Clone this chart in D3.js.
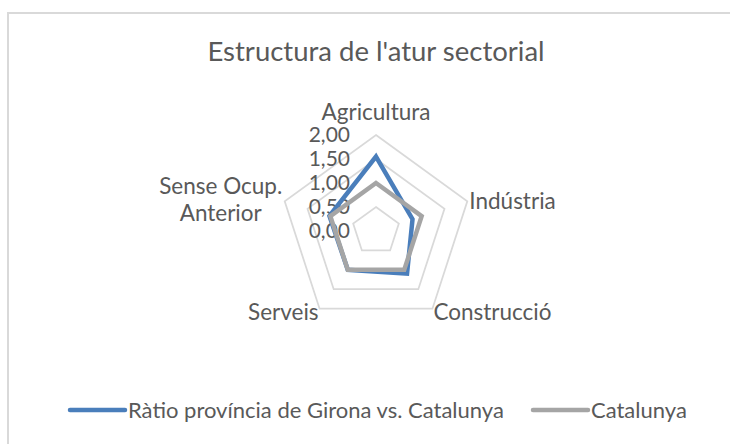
<!DOCTYPE html>
<meta charset="utf-8">
<style>
    body { margin: 0; background: #fff; }
    svg text {
        font-family: Lato, "Open Sans", sans-serif;
        fill: #595959;
    }
</style>
<svg width="730" height="444"></svg>
<script src="https://d3js.org/d3.v7.min.js"></script>
<script>

    var categories = ["Agricultura", "Indústria", "Construcció", "Serveis", "Sense Ocup. Anterior"];
    var girona = [1.55, 0.8, 1.1, 1.0, 1.02];
    var catalunya = [1.0, 1.0, 1.0, 1.0, 1.0];
    var ticks = [0, 0.5, 1, 1.5, 2];
    var seriesNames = ["Ràtio província de Girona vs. Catalunya", "Catalunya"];
    var colors = ["#4a7ebb", "#a5a5a5"];

    var svg = d3.select("svg"),
        cx = 376,
        cy = 231;

    // chart border (right and bottom edges fall outside the picture)
    svg.append("rect")
        .attr("x", 8).attr("y", 13)
        .attr("width", 740).attr("height", 450)
        .attr("fill", "none")
        .attr("stroke", "#d9d9d9")
        .attr("stroke-width", 2);

    svg.append("text")
        .attr("x", cx).attr("y", 61)
        .attr("text-anchor", "middle")
        .style("font-size", "27.5px")
        .text("Estructura de l'atur sectorial");

    var r = d3.scaleLinear().domain([0, 2]).range([0, 96]);
    var angle = d3.scalePoint().domain(d3.range(categories.length + 1)).range([0, 2 * Math.PI]);

    var g = svg.append("g").attr("transform", "translate(" + cx + "," + cy + ")");

    function pt(i, v) {
        var a = angle(i);
        return [r(v) * Math.sin(a), -r(v) * Math.cos(a)];
    }

    // gridlines
    var radial = d3.lineRadial()
        .angle(function (d, i) { return angle(i); })
        .radius(function (d) { return r(d); })
        .curve(d3.curveLinearClosed);

    g.selectAll(".grid")
        .data(ticks.filter(function (t) { return t > 0; }))
        .enter().append("path")
        .attr("class", "grid")
        .attr("d", function (t) { return radial(categories.map(function () { return t; })); })
        .attr("fill", "none")
        .attr("stroke", "#d9d9d9")
        .attr("stroke-width", 1.75);

    // tick labels
    g.selectAll(".tick")
        .data(ticks)
        .enter().append("text")
        .attr("x", -26)
        .attr("y", function (t) { return -r(t); })
        .attr("dy", "0.35em")
        .attr("text-anchor", "end")
        .style("font-size", "21px")
        .text(function (t) { return d3.format(".2f")(t).replace(".", ","); });

    // series, Catalunya drawn on top
    g.selectAll(".series")
        .data([girona, catalunya])
        .enter().append("path")
        .attr("class", "series")
        .attr("d", radial)
        .attr("fill", "none")
        .attr("stroke", function (d, i) { return colors[i]; })
        .attr("stroke-width", 4.5)
        .attr("stroke-linejoin", "miter");

    // category labels
    var labelPos = [
        {dx: 0, dy: -23, anchor: "middle"},
        {dx: 2, dy: 0, anchor: "start"},
        {dx: 1, dy: 3, anchor: "start"},
        {dx: -1, dy: 3, anchor: "end"},
        {dx: -64, dy: -2, anchor: "middle"}
    ];
    categories.forEach(function (c, i) {
        var p = pt(i, 2), lp = labelPos[i];
        var t = g.append("text")
            .attr("text-anchor", lp.anchor)
            .style("font-size", "22.5px");
        var lines = i === 4 ? ["Sense Ocup.", "Anterior"] : [c];
        lines.forEach(function (ln, k) {
            t.append("tspan")
                .attr("x", p[0] + lp.dx)
                .attr("y", p[1] + lp.dy + (k - (lines.length - 1) / 2) * 27)
                .attr("dy", "0.35em")
                .text(ln);
        });
    });

    // legend
    var legendX = [70, 533];
    var leg = svg.selectAll(".legend")
        .data(seriesNames)
        .enter().append("g")
        .attr("class", "legend")
        .attr("transform", function (d, i) { return "translate(" + legendX[i] + ",410)"; });
    leg.append("line")
        .attr("x1", 0).attr("x2", 55)
        .attr("stroke", function (d, i) { return colors[i]; })
        .attr("stroke-width", 4.5)
        .attr("stroke-linecap", "round");
    leg.append("text")
        .attr("x", 58)
        .attr("dy", "0.35em")
        .style("font-size", "22px")
        .text(function (d) { return d; });
</script>
